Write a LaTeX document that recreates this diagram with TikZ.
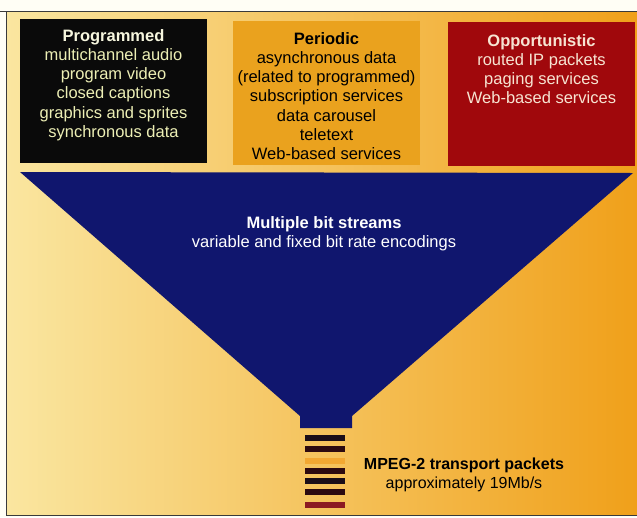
\documentclass[tikz,border=0pt]{standalone}
\usepackage{fontspec}
\setmainfont{Liberation Sans}
\definecolor{bgL}{HTML}{FAE6A0}
\definecolor{bgR}{HTML}{F0A01A}
\definecolor{navy}{HTML}{10166E}
\definecolor{progbox}{HTML}{0A0A0A}
\definecolor{perbox}{HTML}{EAA21E}
\definecolor{oppbox}{HTML}{A0080C}
\definecolor{progtxt}{HTML}{EDEFB5}
\definecolor{proghead}{HTML}{F6F6DE}
\definecolor{opptxt}{HTML}{F7E4D2}
\definecolor{frame}{HTML}{3A3A3A}
\definecolor{pkdark}{HTML}{1A0E18}
\definecolor{pkbrown}{HTML}{2C0A10}
\definecolor{pkorange}{HTML}{F2A832}
\definecolor{pkred}{HTML}{8C1A22}
\begin{document}
\begin{tikzpicture}[x=1pt,y=-1pt,
  catbox/.style={rectangle, inner sep=0pt, outer sep=0pt, draw=none, minimum width=187pt, minimum height=144pt},
  txt/.style={align=center, inner sep=0pt, font=\fontsize{16.5}{19.2}\selectfont},
  packet/.style={rectangle, inner sep=0pt, outer sep=0pt, draw=none, minimum width=40pt, minimum height=6pt}]
\useasboundingbox (0,0) rectangle (637,517);
% background
\fill[white!96!yellow] (0,0) rectangle (637,517);
\shade[left color=bgL, right color=bgR] (6,11) rectangle (637,515);
\draw[frame, line width=0.9pt] (0,11) -- (637,11);
\draw[frame, line width=0.9pt] (6,11) -- (6,515) -- (637,515);
% category boxes
\node[catbox, fill=progbox] (prog) at (113.5,90.5) {};
\node[catbox, fill=perbox] (per) at (326.5,92.5) {};
\node[catbox, fill=oppbox] (opp) at (541.5,93.5) {};
\node[txt, text=progtxt] (progt) at (113.5,85) {\textcolor{proghead}{\textbf{Programmed}}\\multichannel audio\\program video\\closed captions\\graphics and sprites\\synchronous data};
\node[txt, text=black] (pert) at (326.5,96) {\textbf{Periodic}\\asynchronous data\\(related to programmed)\\subscription services\\data carousel\\teletext\\Web-based services};
\node[txt, text=opptxt] (oppt) at (541.5,69) {\textbf{Opportunistic}\\routed IP packets\\paging services\\Web-based services};
% funnel
\fill[navy] (20,172) -- (633,173) -- (352,416) -- (352,428) -- (300,428) -- (300,416) -- cycle;
\node[txt, text=white] (funt) at (324,234) {\textbf{Multiple bit streams}\\variable and fixed bit rate encodings};
% packets
\node[packet, fill=pkdark] (pk1) at (325,438) {};
\node[packet, fill=pkbrown] (pk2) at (325,449) {};
\node[packet, fill=pkorange] (pk3) at (325,460.5) {};
\node[packet, fill=pkbrown] (pk4) at (325,471) {};
\node[packet, fill=pkdark] (pk5) at (325,481) {};
\node[packet, fill=pkbrown] (pk6) at (325,492) {};
\node[packet, fill=pkred] (pk7) at (325,504.5) {};
\node[txt, text=black, font=\fontsize{16}{18.5}\selectfont] (mpeg) at (464,475) {\textbf{MPEG-2 transport packets}\\approximately 19Mb/s};
\end{tikzpicture}
\end{document}
